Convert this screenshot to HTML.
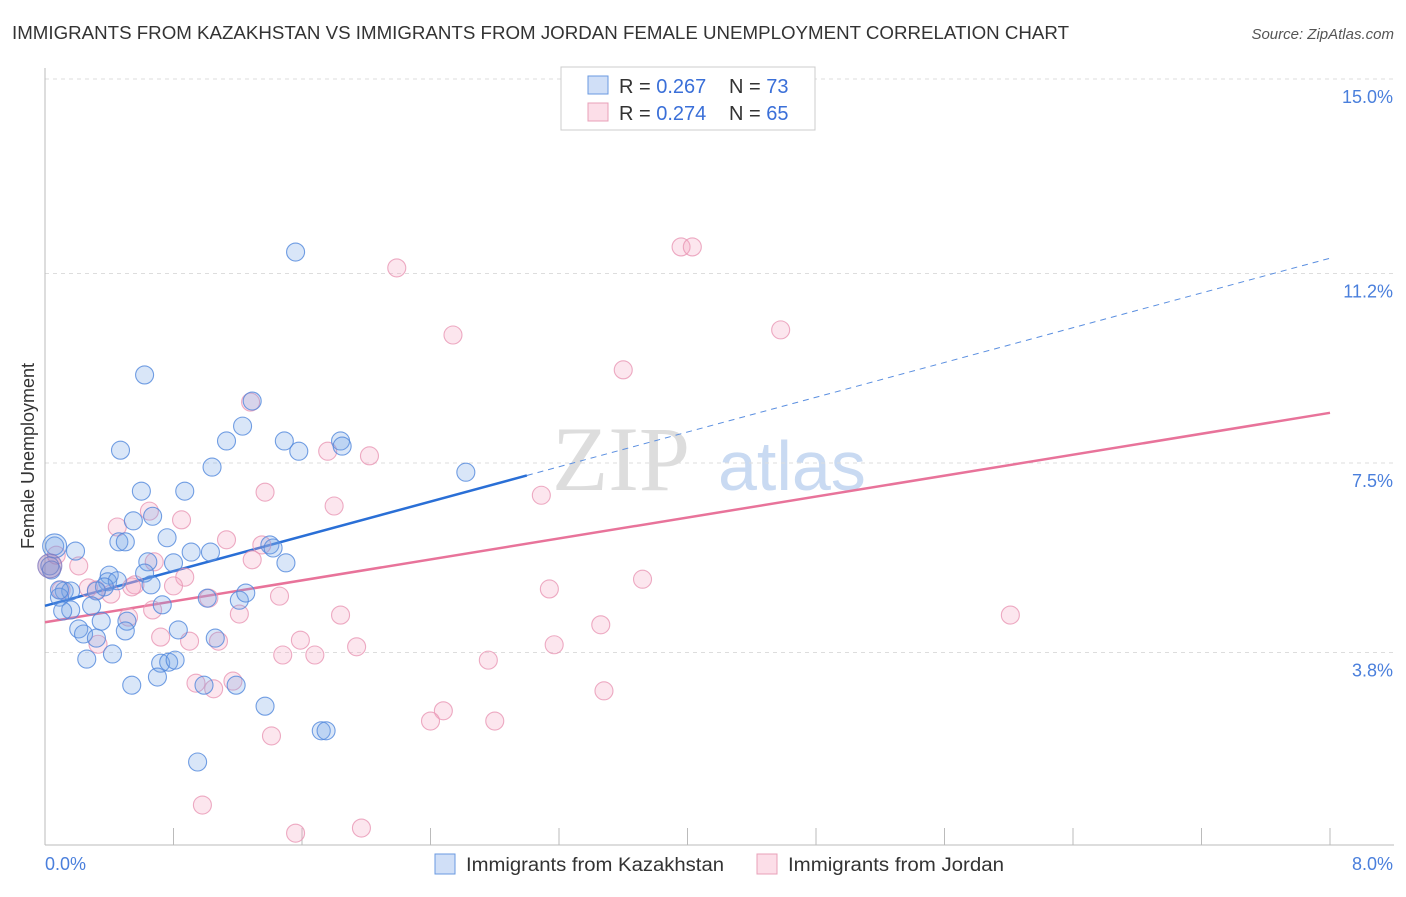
<!DOCTYPE html>
<html><head><meta charset="utf-8"><style>
body{margin:0;background:#fff;font-family:"Liberation Sans",sans-serif}
svg text{font-family:"Liberation Sans",sans-serif}
</style></head><body>
<svg id="chart" width="1406" height="892" xmlns="http://www.w3.org/2000/svg">
<text x="12" y="39" font-size="18" fill="#333" textLength="1057" lengthAdjust="spacingAndGlyphs">IMMIGRANTS FROM KAZAKHSTAN VS IMMIGRANTS FROM JORDAN FEMALE UNEMPLOYMENT CORRELATION CHART</text>
<text x="1394" y="39" font-size="15" fill="#555" text-anchor="end" font-style="italic">Source: ZipAtlas.com</text>
<g>
<text x="552" y="490" font-size="92" fill="#ddd" style="font-family:'Liberation Serif',serif">ZIP</text>
<text x="718" y="490" font-size="70" fill="#c9daf2">atlas</text>
</g>
<g id="grid"></g><g id="axes"></g><g id="trend"></g><g id="pts"></g>
<text x="34" y="456" font-size="18" fill="#333" text-anchor="middle" transform="rotate(-90 34 456)">Female Unemployment</text>
<g>
<rect x="561" y="67" width="254" height="63" fill="#fff" stroke="#ccc"/>
<rect x="588" y="76" width="20" height="18" fill="rgba(100,150,230,0.3)" stroke="#6a9ae0"/>
<rect x="588" y="103" width="20" height="18" fill="rgba(245,160,190,0.35)" stroke="#e8a0b8"/>
<text x="619" y="93" font-size="20" fill="#333">R = <tspan fill="#3a6fd8">0.267</tspan></text>
<text x="729" y="93" font-size="20" fill="#333">N = <tspan fill="#3a6fd8">73</tspan></text>
<text x="619" y="120" font-size="20" fill="#333">R = <tspan fill="#3a6fd8">0.274</tspan></text>
<text x="729" y="120" font-size="20" fill="#333">N = <tspan fill="#3a6fd8">65</tspan></text>
</g>
<g>
<rect x="435" y="854" width="20" height="20" fill="rgba(100,150,230,0.3)" stroke="#6a9ae0"/>
<text x="466" y="871" font-size="19" fill="#333" textLength="258" lengthAdjust="spacingAndGlyphs">Immigrants from Kazakhstan</text>
<rect x="757" y="854" width="20" height="20" fill="rgba(245,160,190,0.35)" stroke="#e8a0b8"/>
<text x="788" y="871" font-size="19" fill="#333" textLength="216" lengthAdjust="spacingAndGlyphs">Immigrants from Jordan</text>
</g>
</svg>
<script>
const yTicks=[3.8,7.5,11.2,15.0];
const yTickLabels=["3.8%","7.5%","11.2%","15.0%"];
const xTickCount=10;
const xMin=0,xMax=8,yMin=0,yMax=15;
const blueX=[1.56,0.62,1.29,1.23,1.13,1.49,1.58,1.84,1.85,1.04,2.62,0.47,0.60,0.87,0.67,0.55,0.76,0.46,0.50,0.06,0.19,0.91,1.03,1.40,1.42,0.64,0.80,1.50,0.62,0.40,0.39,0.45,0.66,0.37,0.03,0.04,0.12,0.16,0.32,0.09,1.01,1.21,1.25,0.73,0.29,0.16,0.11,0.51,0.35,0.21,0.24,0.50,0.83,0.32,1.06,0.42,0.26,0.72,0.77,0.81,0.70,0.54,0.99,1.19,1.37,1.72,1.75,0.95,0.09];
const blueY=[11.62,9.22,8.71,8.22,7.93,7.93,7.73,7.93,7.83,7.42,7.32,7.75,6.95,6.95,6.46,6.37,6.04,5.96,5.96,5.88,5.78,5.76,5.76,5.90,5.84,5.57,5.55,5.55,5.35,5.31,5.18,5.20,5.12,5.08,5.49,5.41,5.00,5.00,5.00,4.88,4.86,4.82,4.96,4.73,4.71,4.63,4.61,4.41,4.41,4.26,4.16,4.22,4.24,4.08,4.08,3.77,3.67,3.59,3.61,3.65,3.32,3.16,3.16,3.16,2.75,2.27,2.27,1.66,5.02];
const pinkX=[3.96,4.03,2.19,2.54,4.58,3.60,1.28,1.76,2.02,3.09,1.37,1.80,0.65,0.85,0.45,1.13,1.35,0.07,0.21,0.68,1.29,0.87,0.56,0.41,0.80,0.32,0.10,1.46,1.02,0.54,1.84,3.72,3.14,6.01,0.67,1.21,0.52,0.72,0.90,1.08,1.59,3.46,1.94,3.17,0.33,1.48,1.68,2.76,0.94,1.05,1.17,3.48,2.48,2.40,2.80,1.41,0.98,1.56,1.97,0.27];
const pinkY=[11.72,11.72,11.31,10.00,10.10,9.32,8.69,7.73,7.64,6.87,6.93,6.66,6.56,6.39,6.25,6.00,5.90,5.70,5.49,5.57,5.61,5.27,5.12,4.94,5.10,5.02,5.02,4.90,4.86,5.08,4.53,5.23,5.04,4.53,4.63,4.55,4.49,4.10,4.02,4.02,4.04,4.34,3.91,3.95,3.96,3.75,3.75,3.65,3.20,3.09,3.24,3.05,2.66,2.46,2.46,2.17,0.82,0.27,0.37,5.06];
const blueTrend=[4.71,11.50];
const blueSolidEnd=3.0;
const pinkTrend=[4.39,8.48];
const L=45,R=1330,B=845;
const sx=v=>L+(v-xMin)/(xMax-xMin)*(R-L);
const sy=v=>79+(yMax-v)*51.2;
const NS="http://www.w3.org/2000/svg";
function mk(tag,attrs,parent){const e=document.createElementNS(NS,tag);for(const k in attrs)e.setAttribute(k,attrs[k]);parent.appendChild(e);return e;}
const grid=document.getElementById('grid'),axes=document.getElementById('axes');
yTicks.forEach((t,i)=>{
 const y=sy(t);
 const g=mk('line',{x1:L,x2:1394,y1:y,y2:y,stroke:'#ddd','stroke-dasharray':'4,4'},grid);
 
 
 const tx=mk('text',{x:1393,y:y+24,'font-size':18,fill:'#4a7fdc','text-anchor':'end'},axes);
 tx.textContent=yTickLabels[i];
 
 
});
const ya=mk('line',{x1:L,x2:L,y1:68,y2:B,stroke:'#bbb'},axes);


const xa=mk('line',{x1:L,x2:1394,y1:B,y2:B,stroke:'#bbb'},axes);


for(let i=0;i<=xTickCount;i++){
 const x=sx(xMin+i*(xMax-xMin)/xTickCount);
 const t=mk('line',{x1:x,x2:x,y1:828,y2:B,stroke:'#bbb'},axes);
 
 
}
const x0=mk('text',{x:45,y:870,'font-size':18,fill:'#4a7fdc'},axes);x0.textContent='0.0%';


const x1=mk('text',{x:1393,y:870,'font-size':18,fill:'#4a7fdc','text-anchor':'end'},axes);x1.textContent='8.0%';


const pts=document.getElementById('pts');
function dot(x,y,fill,stroke,name,r){const c=mk('circle',{cx:sx(x),cy:sy(y),r:r,fill:fill,stroke:stroke,'stroke-width':1.1},pts);
 
 }
pinkX.forEach((x,i)=>dot(x,pinkY[i],'rgba(245,165,195,0.28)','rgba(232,150,180,0.8)','jordan-point',9));
blueX.forEach((x,i)=>dot(x,blueY[i],'rgba(120,165,230,0.28)','rgba(80,135,220,0.8)','kazakhstan-point',9));
dot(0.06,5.88,'rgba(120,165,230,0.28)','rgba(80,135,220,0.8)','kazakhstan-point-large',12);
dot(0.03,5.49,'rgba(150,115,175,0.4)','rgba(130,120,190,0.8)','overlap-point-large',12);
const tr=document.getElementById('trend');
const by=x=>blueTrend[0]+(blueTrend[1]-blueTrend[0])*x/xMax;
let l=mk('line',{x1:sx(0),y1:sy(pinkTrend[0]),x2:sx(xMax),y2:sy(pinkTrend[1]),stroke:'#e8739a','stroke-width':2.5},tr);


l=mk('line',{x1:sx(blueSolidEnd),y1:sy(by(blueSolidEnd)),x2:sx(xMax),y2:sy(blueTrend[1]),stroke:'#5b8fe0','stroke-width':1,'stroke-dasharray':'6,5'},tr);


l=mk('line',{x1:sx(0),y1:sy(blueTrend[0]),x2:sx(blueSolidEnd),y2:sy(by(blueSolidEnd)),stroke:'#2a6fd6','stroke-width':2.5},tr);


</script>
</body></html>
